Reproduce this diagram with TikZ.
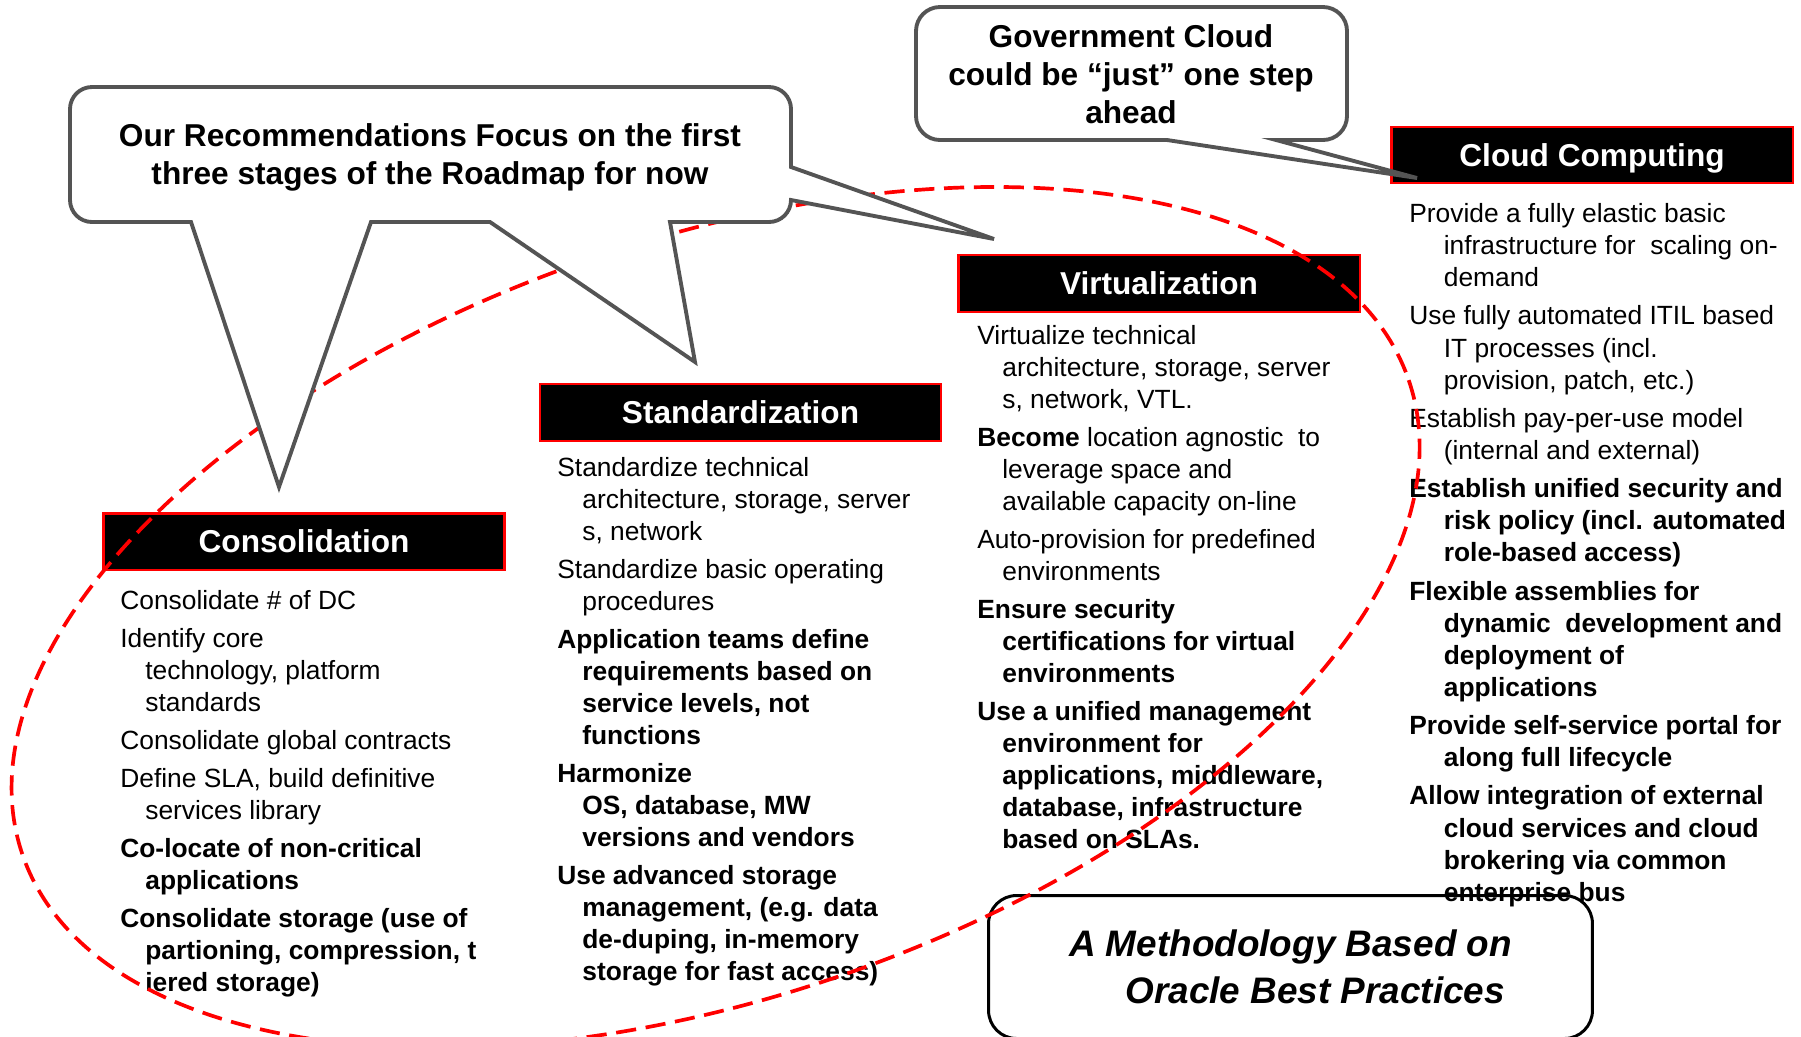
\documentclass[tikz,border=0pt]{standalone}
\usepackage{fontspec}
\setmainfont{Liberation Sans}
\newcommand{\ind}{\hspace*{0.5cm}}
\newcommand{\indc}{\hspace*{0.69cm}}
\newcommand{\gap}{\\[3.4pt]}
\tikzset{
  stage/.style={draw=red, fill=black, line width=1.4pt, text=white, inner sep=0pt,
    minimum width=8.03cm, minimum height=1.13cm, text height=12.8pt, text depth=0pt,
    font=\bfseries\fontsize{18}{21.6}\selectfont},
  items/.style={anchor=north west, inner sep=0pt, align=left,
    font=\fontsize{15}{18.2}\selectfont},
  bubble/.style={draw=black!67, fill=white, line width=2.2pt, line join=miter},
  bubbletext/.style={inner sep=0pt, align=center,
    font=\bfseries\fontsize{18}{21.6}\selectfont},
  methodbox/.style={draw, line width=1.7pt, rounded corners=0.56cm, inner sep=0pt,
    minimum width=12.08cm, minimum height=2.86cm, align=right,
    font=\bfseries\itshape\fontsize{21}{26.6}\selectfont},
  roadmap/.style={draw=red, line width=2.1pt, dash pattern=on 11.5pt off 5.5pt}
}
\begin{document}
\begin{tikzpicture}[x=0.02cm, y=-0.02cm]
\useasboundingbox (0,0) rectangle (1801,1036);
% stages
\node[stage] (cons)  at (304,541.5)   {Consolidation};
\node[stage] (std)   at (740.5,412.5) {Standardization};
\node[stage] (virt)  at (1159,283.5)  {Virtualization};
\node[stage] (cloud) at (1592,155)    {Cloud Computing};
% what each stage brings
\node[items] (consitems) at (120,590) {%
  Consolidate \# of DC\gap
  Identify core\\
  \ind technology, platform\\
  \ind standards\gap
  Consolidate global contracts\gap
  Define SLA, build definitive\\
  \ind services library\gap
  \textbf{Co-locate of non-critical}\\
  \ind\textbf{applications}\gap
  \textbf{Consolidate storage (use of}\\
  \ind\textbf{partioning, compression, t}\\
  \ind\textbf{iered storage)}};
\node[items] (stditems) at (557,457) {%
  Standardize technical\\
  \ind architecture, storage, server\\
  \ind s, network\gap
  Standardize basic operating\\
  \ind procedures\gap
  \textbf{Application teams define}\\
  \ind\textbf{requirements based on}\\
  \ind\textbf{service levels, not}\\
  \ind\textbf{functions}\gap
  \textbf{Harmonize}\\
  \ind\textbf{OS, database, MW}\\
  \ind\textbf{versions and vendors}\gap
  \textbf{Use advanced storage}\\
  \ind\textbf{management, (e.g. data}\\
  \ind\textbf{de-duping, in-memory}\\
  \ind\textbf{storage for fast access)}};
\node[items] (virtitems) at (977,325) {%
  Virtualize technical\\
  \ind architecture, storage, server\\
  \ind s, network, VTL.\gap
  \textbf{Become} location agnostic\ \ to\\
  \ind leverage space and\\
  \ind available capacity on-line\gap
  Auto-provision for predefined\\
  \ind environments\gap
  \textbf{Ensure security}\\
  \ind\textbf{certifications for virtual}\\
  \ind\textbf{environments}\gap
  \textbf{Use a unified management}\\
  \ind\textbf{environment for}\\
  \ind\textbf{applications, middleware,}\\
  \ind\textbf{database, infrastructure}\\
  \ind\textbf{based on SLAs.}};
\node[items, font=\fontsize{15}{18.3}\selectfont] (clouditems) at (1409,203) {%
  Provide a fully elastic basic\\
  \indc infrastructure for\ \ scaling on-\\
  \indc demand\gap
  Use fully automated ITIL based\\
  \indc IT processes (incl.\\
  \indc provision, patch, etc.)\gap
  Establish pay-per-use model\\
  \indc (internal and external)\gap
  \textbf{Establish unified security and}\\
  \indc\textbf{risk policy (incl. automated}\\
  \indc\textbf{role-based access)}\gap
  \textbf{Flexible assemblies for}\\
  \indc\textbf{dynamic\ \ development and}\\
  \indc\textbf{deployment of}\\
  \indc\textbf{applications}\gap
  \textbf{Provide self-service portal for}\\
  \indc\textbf{along full lifecycle}\gap
  \textbf{Allow integration of external}\\
  \indc\textbf{cloud services and cloud}\\
  \indc\textbf{brokering via common}\\
  \indc\textbf{enterprise bus}};
\node[methodbox] (method) at (1290.5,967) {A Methodology Based on\\Oracle Best Practices\hspace*{0.14cm}};
% the first three stages
\begin{scope}[shift={(715.6,617.4)}, rotate=18.9]
  \draw[roadmap] (0,0) ellipse [x radius=732.6, y radius=379.5];
\end{scope}
% callouts
\coordinate (tipA) at (279,487);
\coordinate (tipB) at (695,362);
\coordinate (tipC) at (994,239);
\coordinate (tipG) at (1417,178);
\draw[bubble] (92,87) -- (769,87) arc[start angle=270, end angle=360, radius=22]
  -- (791,167) -- (tipC) -- (791,200) arc[start angle=0, end angle=90, radius=22]
  -- (670,222) -- (tipB) -- (490,222) -- (371,222) -- (tipA) -- (191,222)
  -- (92,222) arc[start angle=90, end angle=180, radius=22]
  -- (70,109) arc[start angle=180, end angle=270, radius=22] -- cycle;
\node[bubbletext] (focus) at (430,157) {Our Recommendations Focus on the first\\three stages of the Roadmap for now};
\draw[bubble] (940,7) -- (1323,7) arc[start angle=270, end angle=360, radius=24]
  -- (1347,116) arc[start angle=0, end angle=90, radius=24]
  -- (1276,140) -- (tipG) -- (1167,140)
  -- (940,140) arc[start angle=90, end angle=180, radius=24]
  -- (916,31) arc[start angle=180, end angle=270, radius=24] -- cycle;
\node[bubbletext] (govcloud) at (1131,74) {Government Cloud\\could be “just” one step\\ahead};
\end{tikzpicture}
\end{document}
